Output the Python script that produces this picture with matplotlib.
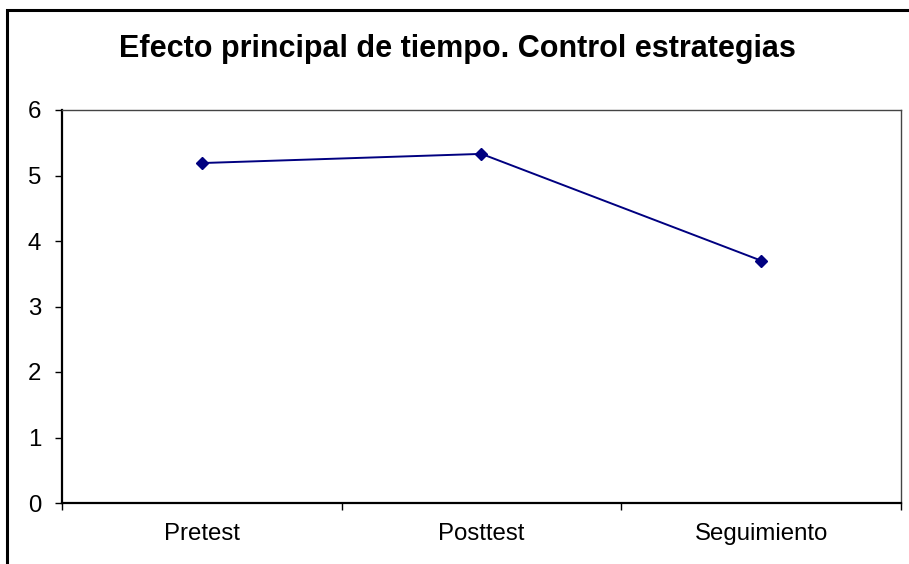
import matplotlib
matplotlib.use("Agg")
import matplotlib.pyplot as plt
from matplotlib.patches import Rectangle

plt.rcParams['font.family'] = ['Liberation Sans', 'DejaVu Sans']

# Data
categories = ["Pretest", "Posttest", "Seguimiento"]
values = [5.19, 5.33, 3.70]
y_ticks = [0, 1, 2, 3, 4, 5, 6]

W, H = 909, 564
fig = plt.figure(figsize=(W / 100, H / 100), dpi=100)

# outer chart frame (right and bottom edges are cut off in the reference)
fig.patches.append(Rectangle((7 / W, -0.1), 1.2, 1.1 - 10 / H,
                             transform=fig.transFigure, fill=False,
                             edgecolor="black", linewidth=2.2, clip_on=False))

ax = fig.add_axes([62 / W, (H - 503) / H, (901 - 62) / W, (503 - 110) / H])

x = [i + 0.5 for i in range(len(categories))]
ax.plot(x, values, color="#000080", linewidth=1.4, marker="D", markersize=6,
        markerfacecolor="#000080", markeredgecolor="#000080")

ax.set_xlim(0, 3)
ax.set_ylim(0, 6)
ax.set_yticks(y_ticks)
ax.set_xticks([0, 1, 2, 3])
ax.set_xticklabels([])
ax.set_xticks(x, minor=True)
ax.set_xticklabels(categories, minor=True)
ax.tick_params(axis="x", which="minor", length=0, pad=14.5, labelsize=17.3)
ax.tick_params(axis="x", which="major", length=5, width=1, direction="out")
ax.tick_params(axis="y", length=5, width=1, direction="out", pad=10, labelsize=17.3)

for side in ["left", "bottom"]:
    ax.spines[side].set_linewidth(1.6)
for side in ["top", "right"]:
    ax.spines[side].set_linewidth(1.0)
    ax.spines[side].set_color("#444444")

fig.text(457 / W, 1 - 48.5 / H, "Efecto principal de tiempo. Control estrategias",
         ha="center", va="center", fontsize=22, fontweight="bold")

fig.savefig("out.png", dpi=100)
